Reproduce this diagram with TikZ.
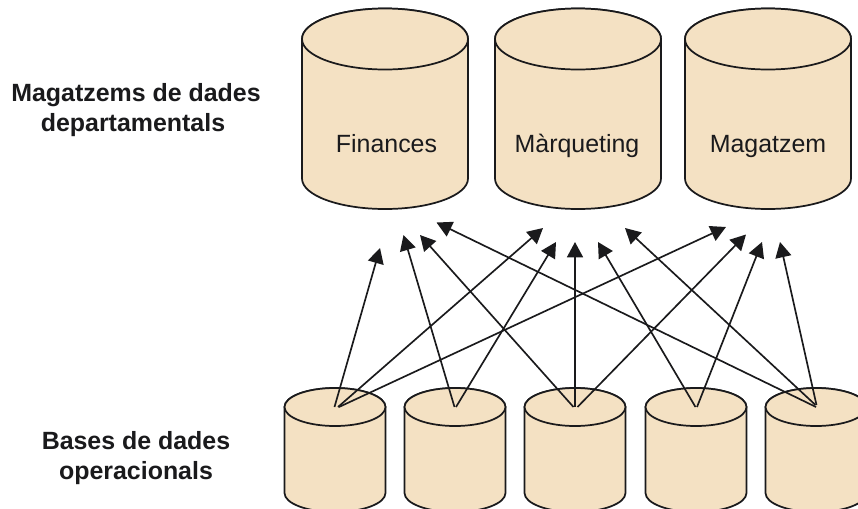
\documentclass[tikz,border=0pt]{standalone}
\usepackage{fontspec}
\setmainfont{Liberation Sans}
\usetikzlibrary{arrows.meta}
\definecolor{cylfill}{HTML}{F4E1C3}
\definecolor{ink}{HTML}{1A1A1C}
\tikzset{
  cylline/.style={draw=ink,fill=cylfill,line width=1.3pt,line join=round},
  cylbox/.style={inner sep=0pt,outer sep=0pt},
  conn/.style={draw=ink,line width=1.25pt,-{Triangle[length=11.5pt,width=12pt]}},
  cyltext/.style={font=\fontsize{18.7pt}{22pt}\selectfont,text=ink,inner sep=0pt,anchor=base},
  grouplabel/.style={font=\fontsize{18.7pt}{22.5pt}\selectfont\bfseries,text=ink,align=center,inner sep=0pt}
}
% name, centre x, top-ellipse centre y, bottom-ellipse centre y, rx, ry
\newcommand{\dbcyl}[6]{%
  \path[cylline] (#2-#5,#3) -- (#2-#5,#4) arc[start angle=180,end angle=0,x radius=#5,y radius=#6] -- (#2+#5,#3) arc[start angle=0,end angle=180,x radius=#5,y radius=-#6] -- cycle;
  \path[cylline] (#2,#3) ellipse[x radius=#5,y radius=#6];
  \node[cylbox] (#1) at (#2,#3) {};
}
\begin{document}
\begin{tikzpicture}[x=0.75pt,y=-0.75pt]
\clip (0,0) rectangle (858,508);
\fill[white] (0,0) rectangle (858,508);
% big cylinders
\dbcyl{fin}{385}{39}{178.5}{83}{30.5}
\dbcyl{mar}{578}{39}{178.5}{83}{30.5}
\dbcyl{mag}{768}{39}{178.5}{83}{30.5}
\node[cyltext] (tfin) at (386.5,152) {Finances};
\node[cyltext] (tmar) at (577,152) {Màrqueting};
\node[cyltext] (tmag) at (768,152) {Magatzem};
% small cylinders
\dbcyl{a}{335}{407}{493}{50.5}{19}
\dbcyl{b}{455}{407}{493}{50.5}{19}
\dbcyl{c}{575}{407}{493}{50.5}{19}
\dbcyl{d}{696}{407}{493}{50.5}{19}
\dbcyl{e}{816}{407}{493}{50.5}{19}
% labels
\node[grouplabel] (l1) at (136,110.5) {Magatzems de dades\\departamentals\hspace*{4.5pt}};
\node[grouplabel] (l2) at (136,458.5) {Bases de dades\\operacionals};
% connector ends
\coordinate (a0) at (334.5,407); \coordinate (a1) at (338,407); \coordinate (a2) at (339,407);
\coordinate (b0) at (454.5,407); \coordinate (b1) at (456,407);
\coordinate (c0) at (573.5,407); \coordinate (c1) at (575,407); \coordinate (c2) at (577.5,407);
\coordinate (d0) at (695.5,407); \coordinate (d1) at (697,407);
\coordinate (e0) at (816,407); \coordinate (e1) at (815.5,405); \coordinate (e2) at (816.5,405);
\coordinate (t1) at (380,248);
\coordinate (t2) at (403.5,235);
\coordinate (t3) at (420,235);
\coordinate (t4) at (436.5,222.5);
\coordinate (t5) at (543,228);
\coordinate (t6) at (556,242);
\coordinate (t7) at (575,242);
\coordinate (t8) at (598,242);
\coordinate (t9) at (625,228);
\coordinate (t10) at (726,227);
\coordinate (t11) at (746,234.5);
\coordinate (t12) at (762,242);
\coordinate (t13) at (780,242);
% connectors
\draw[conn] (a0) -- (t1);
\draw[conn] (a1) -- (t5);
\draw[conn] (a2) -- (t10);
\draw[conn] (b0) -- (t2);
\draw[conn] (b1) -- (t6);
\draw[conn] (c0) -- (t3);
\draw[conn] (c1) -- (t7);
\draw[conn] (c2) -- (t11);
\draw[conn] (d0) -- (t8);
\draw[conn] (d1) -- (t12);
\draw[conn] (e0) -- (t4);
\draw[conn] (e1) -- (t9);
\draw[conn] (e2) -- (t13);
\end{tikzpicture}
\end{document}
